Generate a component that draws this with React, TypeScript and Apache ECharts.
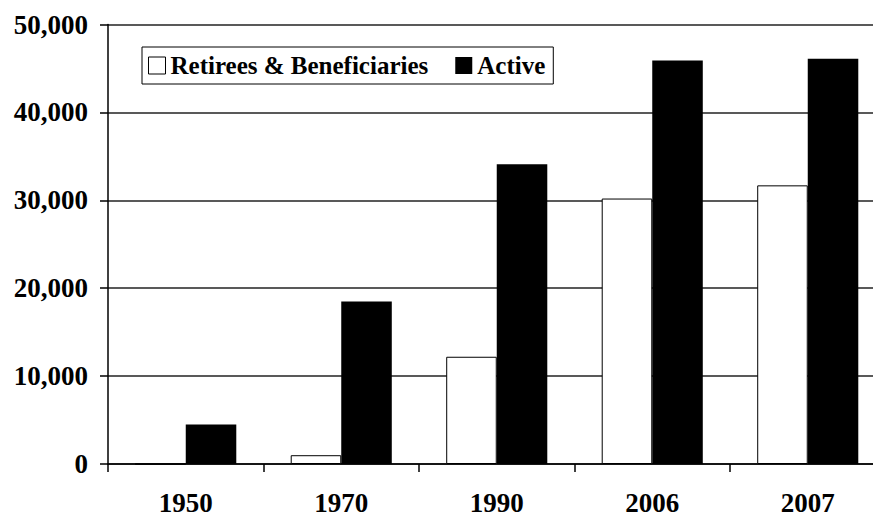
import React, { useEffect, useRef } from "react";
import * as echarts from "echarts";

const categories = ["1950", "1970", "1990", "2006", "2007"];
const retirees = [0, 1000, 12200, 30200, 31700];
const active = [4500, 18500, 34100, 45900, 46100];
const yTicks = [0, 10000, 20000, 30000, 40000, 50000];

const FONT = "Liberation Serif, Times New Roman, serif";

export default function App() {
  const ref = useRef<HTMLDivElement>(null);
  useEffect(() => {
    if (!ref.current) return;
    const chart = echarts.init(ref.current, undefined, { renderer: "svg" });
    chart.setOption({
      animation: false,
      backgroundColor: "#ffffff",
      grid: { left: 108, top: 24.5, bottom: 50, right: 0.5, containLabel: false },
      legend: {
        left: 142,
        top: 47,
        orient: "horizontal",
        backgroundColor: "#ffffff",
        borderColor: "#000",
        borderWidth: 1,
        padding: [6, 8, 6, 6],
        itemWidth: 17,
        itemHeight: 17,
        itemGap: 27,
        textStyle: { fontFamily: FONT, fontWeight: "bold", fontSize: 25, color: "#000" },
        data: [
          { name: "Retirees & Beneficiaries", icon: "rect", itemStyle: { color: "#fff", borderColor: "#000", borderWidth: 1 } },
          { name: "Active", icon: "rect", itemStyle: { color: "#000" } },
        ],
      },
      xAxis: {
        type: "category",
        data: categories,
        axisLine: { show: true, lineStyle: { color: "#000", width: 1.5 } },
        axisTick: { show: true, length: 8, lineStyle: { color: "#000", width: 1.5 } },
        axisLabel: { fontFamily: FONT, fontWeight: "bold", fontSize: 27, color: "#000", margin: 25 },
        splitLine: { show: false },
      },
      yAxis: {
        type: "value",
        min: yTicks[0],
        max: yTicks[yTicks.length - 1],
        interval: 10000,
        axisLine: { show: true, lineStyle: { color: "#000", width: 1.5 } },
        axisTick: { show: true, length: 8, lineStyle: { color: "#000", width: 1.5 } },
        axisLabel: {
          fontFamily: FONT,
          fontWeight: "bold",
          fontSize: 27,
          color: "#000",
          margin: 20,
          formatter: (v: number) => v.toLocaleString("en-US"),
        },
        splitLine: { show: true, lineStyle: { color: "#222", width: 1.5 } },
      },
      series: [
        {
          name: "Retirees & Beneficiaries",
          type: "bar",
          data: retirees,
          barGap: "0%",
          barCategoryGap: "35%",
          itemStyle: { color: "#fff", borderColor: "#000", borderWidth: 1 },
        },
        {
          name: "Active",
          type: "bar",
          data: active,
          barGap: "0%",
          barCategoryGap: "35%",
          itemStyle: { color: "#000" },
        },
      ],
    });
    return () => chart.dispose();
  }, []);
  return (
    <div style={{ position: "absolute", left: 0, top: 0, width: 873, height: 516, overflow: "hidden", background: "#fff" }}>
      <div ref={ref} style={{ width: 886, height: 516 }} />
    </div>
  );
}
